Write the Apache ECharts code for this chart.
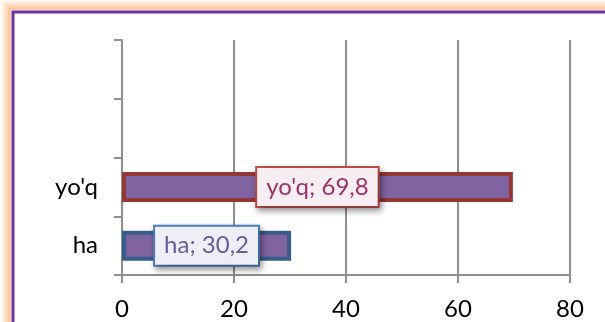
<!DOCTYPE html>
<html>
<head>
<meta charset="utf-8">
<script src="https://cdn.jsdelivr.net/npm/echarts@6/dist/echarts.min.js"></script>
<style>
  html, body { margin: 0; padding: 0; background: #fff; }
  #chart { width: 605px; height: 322px; }
</style>
</head>
<body>
<div id="chart"></div>
<script>
// bottom to top, two empty slots above
const categories = ['ha', "yo'q", '', ''];
const values = [30.2, 69.8, null, null];
const borderColors = ['#385D8A', '#953735'];
const labelText = ['#625E9C', '#9B3366'];
const labelBorder = ['#4F81BD', '#C0504D'];
const labelBg = ['#EEEEF6', '#F6EEF2'];
const xTicks = [0, 20, 40, 60, 80];

const font = 'Lato, "Open Sans", sans-serif';
const gridColor = '#8E8E8E';

const barData = values.map((v, i) => {
  if (v == null) return '-';
  return {
    value: v,
    itemStyle: { borderColor: borderColors[i] },
    label: {
      color: labelText[i],
      borderColor: labelBorder[i],
      backgroundColor: labelBg[i]
    }
  };
});

// soft orange glow around the purple frame
const glow = [];
const glowAlpha = [0.6, 0.5, 0.4, 0.3, 0.2, 0.12, 0.06];
glowAlpha.forEach((a, k) => {
  const d = 3 + k * 1.5;
  glow.push({
    type: 'rect',
    z: -10,
    silent: true,
    shape: { x: 13 - d, y: 12 - d, width: 640 + 2 * d, height: 360 + 2 * d },
    style: { fill: 'none', stroke: 'rgba(247,150,70,' + a + ')', lineWidth: 1.5 }
  });
});

const option = {
  animation: false,
  backgroundColor: '#fff',
  graphic: glow.concat([
    {
      type: 'rect',
      z: -9,
      shape: { x: 13, y: 12, width: 640, height: 360 },
      style: { fill: 'none', stroke: '#7030A0', lineWidth: 3 },
      silent: true
    }
  ]),
  grid: { left: 122, right: 35, top: 40, bottom: 47 },
  xAxis: {
    type: 'value',
    min: 0,
    max: 80,
    interval: 20,
    axisLine: { show: true, lineStyle: { color: gridColor, width: 2 } },
    axisTick: { show: true, length: 8, lineStyle: { color: gridColor, width: 2 } },
    splitLine: { show: true, lineStyle: { color: gridColor, width: 2 } },
    axisLabel: {
      color: '#000',
      fontFamily: font,
      fontSize: 24,
      margin: 22,
      formatter: v => (xTicks.includes(v) ? String(v) : '')
    }
  },
  yAxis: {
    type: 'category',
    data: categories,
    axisLine: { show: true, lineStyle: { color: gridColor, width: 2 } },
    axisTick: { show: true, length: 8, lineStyle: { color: gridColor, width: 2 } },
    splitLine: { show: false },
    axisLabel: { color: '#000', fontFamily: font, fontSize: 24, margin: 24 }
  },
  series: [
    {
      type: 'bar',
      data: barData,
      barWidth: 30,
      itemStyle: { color: '#8064A2', borderWidth: 4 },
      label: {
        show: true,
        position: 'inside',
        fontFamily: font,
        fontSize: 24,
        borderWidth: 2,
        padding: [8, 9, 6, 9],
        shadowColor: 'rgba(0,0,0,0.35)',
        shadowBlur: 6,
        shadowOffsetX: 2,
        shadowOffsetY: 3,
        formatter: p => p.name + '; ' + String(p.value).replace('.', ',')
      }
    }
  ]
};

const myChart = echarts.init(document.getElementById('chart'));
myChart.setOption(option);
</script>
</body>
</html>
